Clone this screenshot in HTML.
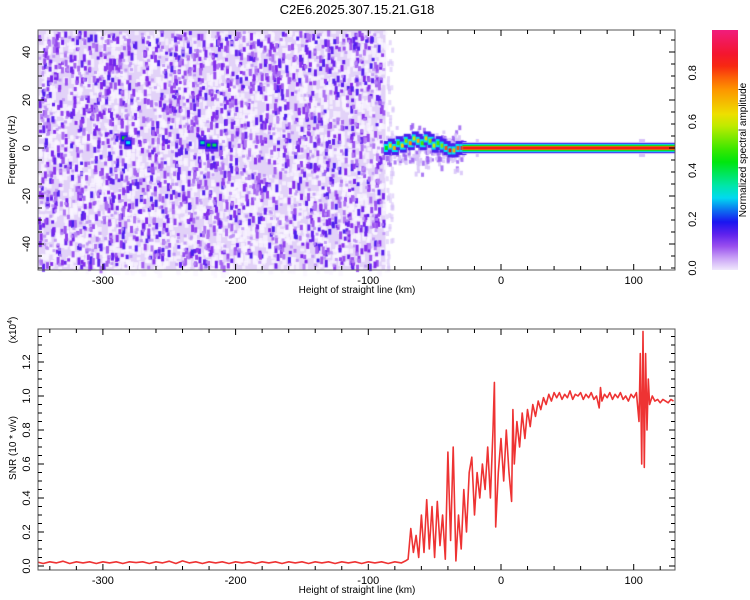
<!DOCTYPE html>
<html><head><meta charset="utf-8">
<style>
body{margin:0;background:#fff;width:750px;height:600px;overflow:hidden;font-family:"Liberation Sans",sans-serif;}
#wrap{position:relative;width:750px;height:600px;}
canvas{position:absolute;left:0;top:0;}
svg{position:absolute;left:0;top:0;}
text{font-family:"Liberation Sans",sans-serif;font-size:11px;fill:#000;}
</style></head>
<body>
<div id="wrap">
<canvas id="hm" width="750" height="600"></canvas>
<svg id="svg" width="750" height="600"></svg>
</div>
<script>
// ---------- data ----------
const snrHeights = [-350,-345,-340,-335,-330,-325,-320,-315,-310,-305,-300,-295,-290,-285,-280,-275,-270,-265,-260,-255,-250,-245,-240,-235,-230,-225,-220,-215,-210,-205,-200,-195,-190,-185,-180,-175,-170,-165,-160,-155,-150,-145,-140,-135,-130,-125,-120,-115,-110,-105,-100,-95,-90,-85,-80,-75,
-72,-70,-68,-66,-64,-62,-60,-58,-56,-54,-52,-50,-48,-46,-44,-42,-40,-38,-36,-34,-32,-30,-28,-26,-24,-22,-20,-18,-16,-14,-12,-10,-8,-6,-5,-4,-2,0,2,4,6,8,9,10,12,14,16,18,20,22,24,26,28,30,32,34,36,38,40,
42,44,46,48,50,52,54,56,58,60,62,64,66,68,70,72,74,75,76,78,80,82,84,86,88,90,92,94,96,98,100,102,104,105,106,107,108,109,110,111,112,114,116,118,120,122,124,126,128,130];
const snrValues = [0.025,0.015,0.025,0.018,0.028,0.015,0.025,0.018,0.025,0.015,0.025,0.018,0.025,0.015,0.025,0.02,0.025,0.015,0.025,0.018,0.028,0.015,0.03,0.018,0.025,0.015,0.025,0.018,0.025,0.015,0.025,0.018,0.025,0.015,0.025,0.018,0.025,0.015,0.025,0.018,0.025,0.015,0.025,0.018,0.025,0.015,0.025,0.018,0.025,0.015,0.025,0.018,0.025,0.015,0.025,0.018,
0.03,0.04,0.22,0.08,0.18,0.05,0.30,0.08,0.39,0.10,0.35,0.05,0.38,0.12,0.30,0.04,0.67,0.15,0.70,0.03,0.30,0.10,0.45,0.20,0.55,0.64,0.30,0.55,0.40,0.60,0.45,0.70,0.40,0.80,1.08,0.23,0.55,0.75,0.50,0.80,0.55,0.38,0.92,0.60,0.85,0.70,0.90,0.75,0.92,0.82,0.95,0.88,0.97,0.92,0.99,0.95,1.01,0.97,1.02,
0.99,1.02,0.98,1.01,0.99,1.03,0.98,1.01,1.00,1.02,0.98,1.01,0.99,1.02,0.98,1.00,0.93,1.05,0.97,1.01,0.99,1.02,0.98,1.01,0.99,1.02,0.98,1.00,0.97,1.01,0.99,1.02,0.85,1.25,0.60,1.38,0.58,1.25,0.80,1.10,0.95,1.00,0.97,0.98,0.96,0.98,0.97,0.96,0.98,0.97];
const ridgeHeights = [-86,-83,-80,-77,-74,-71,-68,-65,-62,-59,-56,-53,-50,-47,-44,-41,-38,-35,-32,-29];
const ridgeFreqs   = [0,1,0,2,1,3,2,4,3,2,4,3,1,2,1,0,-1,-1,0,0];
const ridgeAmps    = [0.45,0.6,0.7,0.5,0.65,0.55,0.75,0.6,0.7,0.5,0.65,0.55,0.6,0.5,0.55,0.8,0.85,0.7,0.8,0.9];
const blobHeights = [-284,-281,-225,-220,-216];
const blobFreqs   = [4,2,2,1,1];
const blobAmps    = [0.45,0.3,0.35,0.45,0.4];
const xTicks = [-300,-200,-100,0,100];
const fTicks = [-40,-20,0,20,40];
const sTicks = [0,0.2,0.4,0.6,0.8,1.0,1.2];
const cTicks = [0,0.2,0.4,0.6,0.8];

const X0=38,X1=675;
const xs = h => 501 + (h)*1.327;
const T0=30,T1=270;
const fy = f => 148 - f*2.4;
const B0=329,B1=570;
const sy = v => 566 - v*170;

const NS="http://www.w3.org/2000/svg";
const svg=document.getElementById('svg');
function mk(tag,attrs,parent){const e=document.createElementNS(NS,tag);for(const k in attrs)e.setAttribute(k,attrs[k]);(parent||svg).appendChild(e);return e;}

const cstops=[[0,[240,232,252]],[0.05,[200,160,246]],[0.12,[130,40,235]],[0.2,[20,20,240]],[0.3,[0,230,240]],[0.45,[0,230,0]],[0.62,[235,235,0]],[0.75,[255,140,0]],[0.85,[245,20,20]],[1,[240,30,140]]];
function cmap(v){v=Math.max(0,Math.min(1,v));for(let i=1;i<cstops.length;i++){if(v<=cstops[i][0]){const a=cstops[i-1],b=cstops[i];const t=(v-a[0])/(b[0]-a[0]);return 'rgb('+a[1].map((c,j)=>Math.round(c+(b[1][j]-c)*t)).join(',')+')';}}return 'rgb(240,30,140)';}

const cv=document.getElementById('hm');const ctx=cv.getContext('2d');
let seed=12345;function rnd(){seed=(seed*1103515245+12345)&0x7fffffff;return seed/0x7fffffff;}
const noiseEdge=xs(-87);
ctx.fillStyle='#e2d2f8';ctx.fillRect(X0,T0,noiseEdge-X0,T1-T0);
for(let i=0;i<3000;i++){const x=X0+rnd()*(noiseEdge-X0),y=T0+rnd()*(T1-T0);ctx.fillStyle='rgba(250,246,255,0.75)';ctx.fillRect(x,y,3+rnd()*2,3+rnd()*6);}
for(let i=0;i<1700;i++){const x=X0+rnd()*(noiseEdge-X0-3),y=T0+rnd()*(T1-T0-4);const v=0.07+rnd()*0.09;ctx.fillStyle=cmap(v);ctx.fillRect(x,y,3,3+rnd()*5);}
for(let i=0;i<700;i++){const x=X0+rnd()*(noiseEdge-X0-3),y=T0+rnd()*(T1-T0-4);ctx.fillStyle='rgba(185,140,245,0.8)';ctx.fillRect(x,y,3,3);}
for(let i=0;i<60;i++){const x=noiseEdge+rnd()*6,y=T0+rnd()*(T1-T0);ctx.fillStyle='rgba(215,195,248,0.6)';ctx.fillRect(x,y,3,5);}
blobHeights.forEach((h,i)=>{const x=xs(h),y=fy(blobFreqs[i]);ctx.fillStyle=cmap(0.14);ctx.fillRect(x-4,y-6,8,12);ctx.fillStyle=cmap(0.2);ctx.fillRect(x-3,y-3,6,6);ctx.fillStyle=cmap(blobAmps[i]);ctx.fillRect(x-2,y-2,4,3);});
// noisy ridge halo: scattered speckles
for(let i=0;i<260;i++){const x=xs(-87)+rnd()*(xs(-29)-xs(-87)),y=fy(0)+(rnd()-0.5)*(rnd()<0.8?26:50);ctx.fillStyle=rnd()<0.35?'rgba(150,90,240,0.8)':'rgba(215,195,248,0.85)';ctx.fillRect(x,y,3,3+rnd()*3);}
ridgeHeights.forEach((h,i)=>{const x=xs(h),y=fy(ridgeFreqs[i]);
 ctx.fillStyle=cmap(0.16);ctx.fillRect(x-3,y-7,7,14);
 ctx.fillStyle=cmap(0.3);ctx.fillRect(x-3,y-4,6,8);
 ctx.fillStyle=cmap(ridgeAmps[i]);ctx.fillRect(x-2,y-2,4,4);});
const bx0=xs(-29);
[[6,'rgba(215,195,248,0.85)'],[5,cmap(0.17)],[4,cmap(0.3)],[3,cmap(0.45)],[2,cmap(0.62)],[1.6,cmap(0.85)]].forEach(([w,c])=>{ctx.fillStyle=c;ctx.fillRect(bx0,fy(0)-w,X1-bx0,2*w);});
ctx.fillStyle='rgba(200,170,246,0.7)';ctx.fillRect(xs(-19),fy(0)-9,3,3);ctx.fillRect(xs(-19),fy(0)+6,3,3);ctx.fillRect(xs(104),fy(0)-9,6,3);ctx.fillRect(xs(104),fy(0)+6,6,3);

let d='';snrHeights.forEach((h,i)=>{d+=(i?'L':'M')+xs(h).toFixed(1)+','+sy(snrValues[i]).toFixed(1);});
const clip=mk('clipPath',{id:'bc'});mk('rect',{x:X0,y:B0,width:X1-X0,height:B1-B0},clip);
const line=mk('path',{d:d,fill:'none',stroke:'#ee3333','stroke-width':1.6,'stroke-linejoin':'round','clip-path':'url(#bc)'});



function frame(y0,y1,name){const r=mk('rect',{x:X0,y:y0,width:X1-X0,height:y1-y0,fill:'none',stroke:'#555','stroke-width':1});
 for(let h=-340;h<=130;h+=20){const x=xs(h);const L=(h%100===0)?6:4;mk('line',{x1:x,x2:x,y1:y1,y2:y1-L,stroke:'#000'});mk('line',{x1:x,x2:x,y1:y0,y2:y0+L,stroke:'#000'});}}
frame(T0,T1,'spectrogram-frame');frame(B0,B1,'snr-frame');
xTicks.forEach(h=>{[T1,B1].forEach(y=>{const t=mk('text',{x:xs(h),y:y+14,'text-anchor':'middle'});t.textContent=h;});});
for(let f=-50;f<=50;f+=5){const y=fy(f);if(y<T0||y>T1)continue;const L=f%20===0?6:4;mk('line',{x1:X0,x2:X0+L,y1:y,y2:y,stroke:'#000'});mk('line',{x1:X1,x2:X1-L,y1:y,y2:y,stroke:'#000'});}
fTicks.forEach(f=>{const t=mk('text',{x:30,y:fy(f),'text-anchor':'middle',transform:'rotate(-90 30 '+fy(f)+')'});t.textContent=f;});
for(let v=0;v<=1.4;v+=0.05){const y=sy(v);if(y<B0)break;const L=Math.abs(v*5-Math.round(v*5))<0.01?6:4;mk('line',{x1:X0,x2:X0+L,y1:y,y2:y,stroke:'#000'});mk('line',{x1:X1,x2:X1-L,y1:y,y2:y,stroke:'#000'});}
sTicks.forEach(v=>{const t=mk('text',{x:30,y:sy(v),'text-anchor':'middle',transform:'rotate(-90 30 '+sy(v)+')'});t.textContent=v.toFixed(1);});

function txt(s,x,y,rot,name,size){const a={x:x,y:y,'text-anchor':'middle'};if(rot)a.transform='rotate(-90 '+x+' '+y+')';const t=mk('text',a);if(size)t.style.fontSize=size+'px';t.textContent=s;return t;}
txt('C2E6.2025.307.15.21.G18',357,14,false,'chart-title',13);
txt('Height of straight line (km)',357,293,false,'x-axis-title',10);
txt('Height of straight line (km)',357,593,false,'x-axis-title-bottom',10);
txt('Frequency (Hz)',15,150,true,'y-axis-title',10);
txt('SNR (10 * v/v)',16,448,true,'snr-axis-title',10);
const ex=txt('(x10',16,330,true,'snr-exponent',10);
const sup=mk('tspan',{dy:-4,'font-size':'7'},ex);sup.textContent='4';const cl=mk('tspan',{dy:4},ex);cl.textContent=')';

const grad=mk('linearGradient',{id:'cg',x1:0,y1:1,x2:0,y2:0});
for(let i=0;i<=20;i++){const v=i/20;mk('stop',{offset:v,'stop-color':cmap(v*0.98)},grad);}
const cb=mk('rect',{x:712,y:30,width:26,height:240,fill:'url(#cg)'});
cTicks.forEach(v=>{const y=268-v*244;txt(v.toFixed(1),692,y+4,true,'colorbar-tick-label',11).setAttribute('transform','rotate(-90 692 '+y+')');});
txt('Normalized spectral amplitude',746,150,true,'colorbar-title',10);
</script>
</body></html>
